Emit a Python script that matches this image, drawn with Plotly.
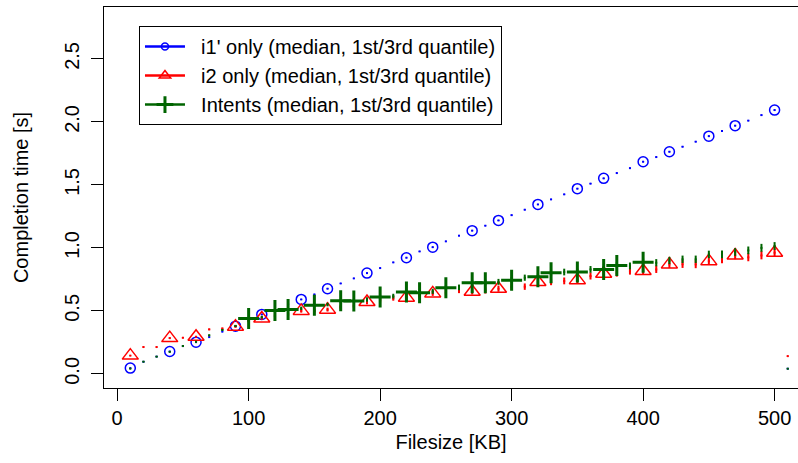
import plotly.graph_objects as go

# ---------------- data ----------------
filesize = [10, 20, 30, 40, 50, 60, 70, 80, 90, 100,
            110, 120, 130, 140, 150, 160, 170, 180, 190, 200,
            210, 220, 230, 240, 250, 260, 270, 280, 290, 300,
            310, 320, 330, 340, 350, 360, 370, 380, 390, 400,
            410, 420, 430, 440, 450, 460, 470, 480, 490, 500,
            510]

i1_median = [0.046, 0.096, 0.137, 0.178, 0.221, 0.252, 0.292, 0.335, 0.379, 0.425,
             0.472, 0.510, 0.552, 0.591, 0.631, 0.676, 0.718, 0.758, 0.800, 0.840,
             0.885, 0.922, 0.972, 1.006, 1.052, 1.097, 1.137, 1.176, 1.218, 1.260,
             1.303, 1.345, 1.385, 1.425, 1.470, 1.510, 1.552, 1.594, 1.633, 1.684,
             1.721, 1.763, 1.803, 1.843, 1.887, 1.927, 1.970, 2.010, 2.054, 2.094,
             0.041]
i1_lo = [0.003, 0.003, 0.003, 0.003, 0.003, 0.003, 0.003, 0.003, 0.003, 0.003,
         0.003, 0.003, 0.003, 0.004, 0.003, 0.003, 0.004, 0.003, 0.003, 0.004,
         0.003, 0.004, 0.003, 0.004, 0.003, 0.004, 0.004, 0.003, 0.004, 0.004,
         0.004, 0.004, 0.003, 0.004, 0.004, 0.004, 0.004, 0.004, 0.004, 0.004,
         0.004, 0.004, 0.004, 0.004, 0.004, 0.004, 0.004, 0.004, 0.004, 0.004,
         0.003]
i1_hi = [0.003, 0.003, 0.003, 0.003, 0.003, 0.003, 0.003, 0.003, 0.003, 0.003,
         0.003, 0.003, 0.004, 0.003, 0.003, 0.004, 0.003, 0.004, 0.003, 0.003,
         0.004, 0.003, 0.004, 0.003, 0.004, 0.004, 0.003, 0.004, 0.004, 0.004,
         0.004, 0.003, 0.004, 0.004, 0.004, 0.004, 0.004, 0.004, 0.004, 0.004,
         0.004, 0.004, 0.004, 0.004, 0.004, 0.004, 0.004, 0.004, 0.004, 0.004,
         0.003]

i2_median = [0.145, 0.213, 0.213, 0.284, 0.287, 0.295, 0.353, 0.359, 0.375, 0.420,
             0.440, 0.460, 0.472, 0.500, 0.500, 0.510, 0.530, 0.540, 0.570, 0.585,
             0.599, 0.605, 0.620, 0.639, 0.645, 0.663, 0.652, 0.662, 0.676, 0.690,
             0.692, 0.729, 0.730, 0.737, 0.744, 0.776, 0.795, 0.800, 0.816, 0.816,
             0.829, 0.869, 0.870, 0.869, 0.895, 0.909, 0.940, 0.925, 0.940, 0.962,
             0.141]
i2_lo = [0.004, 0.004, 0.004, 0.005, 0.005, 0.005, 0.006, 0.008, 0.008, 0.010,
         0.010, 0.012, 0.012, 0.014, 0.014, 0.015, 0.016, 0.016, 0.018, 0.018,
         0.018, 0.020, 0.020, 0.020, 0.022, 0.022, 0.022, 0.024, 0.024, 0.024,
         0.025, 0.025, 0.026, 0.026, 0.026, 0.027, 0.027, 0.028, 0.028, 0.028,
         0.028, 0.029, 0.029, 0.030, 0.030, 0.030, 0.030, 0.031, 0.031, 0.031,
         0.004]
i2_hi = [0.004, 0.005, 0.005, 0.006, 0.006, 0.006, 0.007, 0.009, 0.009, 0.011,
         0.011, 0.013, 0.013, 0.015, 0.015, 0.016, 0.017, 0.018, 0.019, 0.020,
         0.020, 0.021, 0.021, 0.022, 0.023, 0.023, 0.024, 0.025, 0.025, 0.026,
         0.026, 0.027, 0.027, 0.028, 0.028, 0.029, 0.029, 0.030, 0.030, 0.030,
         0.031, 0.031, 0.032, 0.032, 0.032, 0.033, 0.033, 0.033, 0.034, 0.034,
         0.004]

intents_median = [0.041, 0.097, 0.137, 0.175, 0.221, 0.255, 0.306, 0.348, 0.380, 0.440,
                  0.450, 0.504, 0.512, 0.520, 0.544, 0.550, 0.580, 0.578, 0.590, 0.610,
                  0.617, 0.649, 0.644, 0.655, 0.684, 0.686, 0.724, 0.724, 0.730, 0.744,
                  0.763, 0.771, 0.803, 0.808, 0.808, 0.829, 0.829, 0.861, 0.856, 0.887,
                  0.882, 0.900, 0.909, 0.909, 0.948, 0.948, 0.967, 0.980, 1.000, 1.014,
                  0.041]
intents_lo = [0.003, 0.004, 0.004, 0.004, 0.005, 0.005, 0.006, 0.007, 0.008, 0.010,
              0.010, 0.011, 0.012, 0.013, 0.014, 0.014, 0.015, 0.016, 0.017, 0.018,
              0.018, 0.019, 0.020, 0.020, 0.021, 0.022, 0.022, 0.023, 0.023, 0.024,
              0.024, 0.025, 0.025, 0.026, 0.026, 0.026, 0.027, 0.027, 0.027, 0.028,
              0.028, 0.028, 0.029, 0.029, 0.029, 0.030, 0.030, 0.030, 0.031, 0.031,
              0.003]
intents_hi = [0.003, 0.004, 0.005, 0.005, 0.006, 0.006, 0.007, 0.008, 0.009, 0.011,
              0.011, 0.012, 0.013, 0.014, 0.015, 0.015, 0.016, 0.017, 0.018, 0.019,
              0.019, 0.020, 0.021, 0.021, 0.022, 0.023, 0.023, 0.024, 0.024, 0.025,
              0.025, 0.026, 0.026, 0.027, 0.027, 0.027, 0.028, 0.028, 0.028, 0.029,
              0.029, 0.029, 0.030, 0.030, 0.030, 0.031, 0.031, 0.031, 0.032, 0.032,
              0.003]

# x positions where the series symbol is drawn
i1_marker_x = [10, 40, 60, 90, 110, 140, 160, 190, 220, 240, 270, 290, 320, 350,
               370, 400, 420, 450, 470, 500]
i2_marker_x = [10, 40, 60, 90, 110, 140, 160, 190, 220, 240, 270, 290, 320, 350,
               370, 400, 420, 450, 470, 500]
intents_marker_x = [100, 120, 130, 150, 170, 180, 200, 220, 230, 250, 270, 280, 300,
                    320, 330, 350, 370, 380, 400]

legend_labels = ["i1' only (median, 1st/3rd quantile)",
                 "i2 only (median, 1st/3rd quantile)",
                 "Intents (median, 1st/3rd quantile)"]

x_ticks = [0, 100, 200, 300, 400, 500]
y_ticks = [0.0, 0.5, 1.0, 1.5, 2.0, 2.5]
y_ticktext = ["0.0", "0.5", "1.0", "1.5", "2.0", "2.5"]

BLUE = "#0000FF"
RED = "#FF0000"
GREEN = "#006400"
FONT = "Liberation Sans, Arial, Helvetica, sans-serif"
NBSP = "\u00a0\u00a0"

series = [
    (i1_median, i1_lo, i1_hi, i1_marker_x, BLUE,
     dict(symbol="circle-open", size=10, line=dict(width=1.5, color=BLUE), color=BLUE),
     dict(symbol="circle-open", size=7, line=dict(width=1.5, color=BLUE), color=BLUE)),
    (i2_median, i2_lo, i2_hi, i2_marker_x, RED,
     dict(symbol="triangle-up-open", size=14, line=dict(width=1.5, color=RED), color=RED),
     dict(symbol="triangle-up-open", size=10, line=dict(width=1.5, color=RED), color=RED)),
    (intents_median, intents_lo, intents_hi, intents_marker_x, GREEN,
     dict(symbol="cross-thin-open", size=15, line=dict(width=3, color=GREEN), color=GREEN),
     dict(symbol="cross-thin-open", size=12, line=dict(width=3, color=GREEN), color=GREEN)),
]

fig = go.Figure()

for (med, lo, hi, mx, col, mk, lmk), label in zip(series, legend_labels):
    # quantile ranges at every file size
    fig.add_trace(go.Scatter(
        x=filesize, y=med, mode="markers",
        marker=dict(symbol="square", size=2, color=col, line=dict(width=0)),
        error_y=dict(type="data", symmetric=False, array=hi, arrayminus=lo,
                     color=col, thickness=2, width=0),
        showlegend=False, hoverinfo="skip"))
    # median symbols
    my = [med[filesize.index(v)] for v in mx]
    fig.add_trace(go.Scatter(x=mx, y=my, mode="markers", marker=mk,
                             showlegend=False))
    # legend entry
    fig.add_trace(go.Scatter(x=[None], y=[None], mode="lines+markers",
                             line=dict(color=col, width=2.5), marker=lmk,
                             name=NBSP + label))

axis_common = dict(
    showgrid=False, zeroline=False, showline=True, linecolor="black", linewidth=1,
    ticks="outside", ticklen=12, tickwidth=1, tickcolor="black", automargin=False,
    tickfont=dict(family=FONT, size=20, color="black"),
)

fig.update_layout(
    width=798, height=463,
    margin=dict(l=104, r=0, t=7, b=75),
    paper_bgcolor="white", plot_bgcolor="white",
    font=dict(family=FONT, size=20, color="black"),
    xaxis=dict(range=[-10, 517.8], tickvals=x_ticks, mirror=True,
               title=dict(text="Filesize [KB]", standoff=6,
                          font=dict(family=FONT, size=20, color="black")),
               **axis_common),
    yaxis=dict(range=[-0.112, 2.912], tickvals=y_ticks, ticktext=y_ticktext,
               tickangle=-90, mirror=False, ticklabelstandoff=4,
               title=dict(text="Completion time [s]", standoff=27,
                          font=dict(family=FONT, size=20, color="black")),
               **axis_common),
    legend=dict(x=0.0504, y=0.95, xanchor="left", yanchor="top",
                bgcolor="white", bordercolor="black", borderwidth=1,
                font=dict(family=FONT, size=20, color="black"),
                itemwidth=40, tracegroupgap=0),
    showlegend=True,
)

fig.write_html("out.html",
               config={"displayModeBar": False},
               post_script="document.body.style.margin='0';"
                           "document.body.style.padding='0';")
